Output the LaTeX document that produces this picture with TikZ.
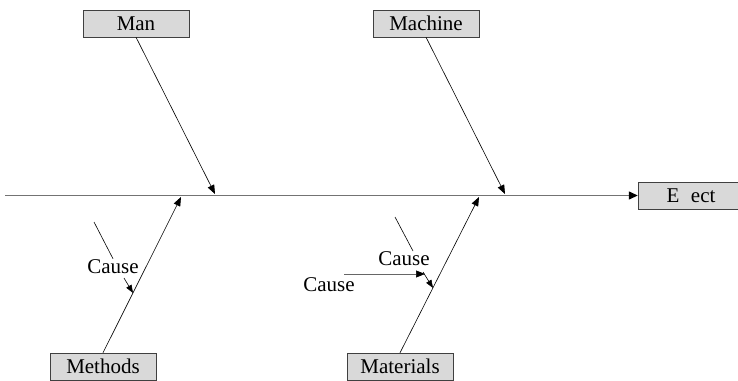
\documentclass[tikz,border=0pt]{standalone}
\usepackage{fontspec}
\setmainfont{Liberation Serif}
\usetikzlibrary{arrows.meta}
\tikzset{
    bone-box/.style = {draw=black!75, fill=black!15, rectangle, minimum width=106pt, minimum height=27pt, inner sep=0pt},
    bone/.style = {-{Triangle[length=9pt,width=7pt,color=black]}, black, line width=0.6pt},
    spine/.style = {-{Triangle[length=9pt,width=8pt,color=black]}, black!55, line width=1.3pt},
    cause-text/.style = {inner sep=1pt},
}

\begin{document}
\begin{tikzpicture}[x=1pt, y=-1pt, font=\fontsize{21}{25}\selectfont]
\useasboundingbox (0,0) rectangle (738,380);
% boxes
\node [bone-box] (man) at (136,23.5) {Man};
\node [bone-box] (machine) at (426,23.5) {Machine};
\node [bone-box] (methods) at (103,366.5) {Methods};
\node [bone-box] (materials) at (400,366.5) {Materials};
\node [bone-box] (effect) at (691,195.5) {E\hspace{0.55em}ect};
% spine
\coordinate (tail) at (5,195.5);
\draw [spine] (tail) -- (effect.west);
% bones
\coordinate (man-tip) at (215,194);
\coordinate (machine-tip) at (505,194);
\coordinate (methods-tip) at (181,197);
\coordinate (materials-tip) at (479,197);
\draw [bone] (man.south) -- (man-tip);
\draw [bone] (machine.south) -- (machine-tip);
\draw [bone] (methods.north) -- (methods-tip);
\draw [bone] (materials.north) -- (materials-tip);
% causes on methods
\node [cause-text] (cause-a) at (113,267) {Cause};
\coordinate (a-top) at (94,222);
\coordinate (a-from) at (124,278);
\coordinate (a-tip) at (133,293);
\draw [black, line width=0.6pt] (a-top) -- (cause-a.north);
\draw [bone, -{Triangle[length=8pt,width=6pt]}] (a-from) -- (a-tip);
% causes on materials
\node [cause-text] (cause-b) at (404,259) {Cause};
\node [cause-text] (cause-c) at (329,285) {Cause};
\coordinate (b-top) at (395,217);
\coordinate (b-end) at (413,251);
\coordinate (b-from) at (423,272);
\coordinate (b-tip) at (433,288);
\coordinate (c-from) at (344,274);
\coordinate (c-tip) at (425,274);
\draw [black, line width=0.6pt] (b-top) -- (b-end);
\draw [bone, -{Triangle[length=8pt,width=6pt]}] (b-from) -- (b-tip);
\draw [black!60, line width=0.6pt, -{Triangle[length=9pt,width=7pt,color=black]}] (c-from) -- (c-tip);
\end{tikzpicture}
\end{document}
